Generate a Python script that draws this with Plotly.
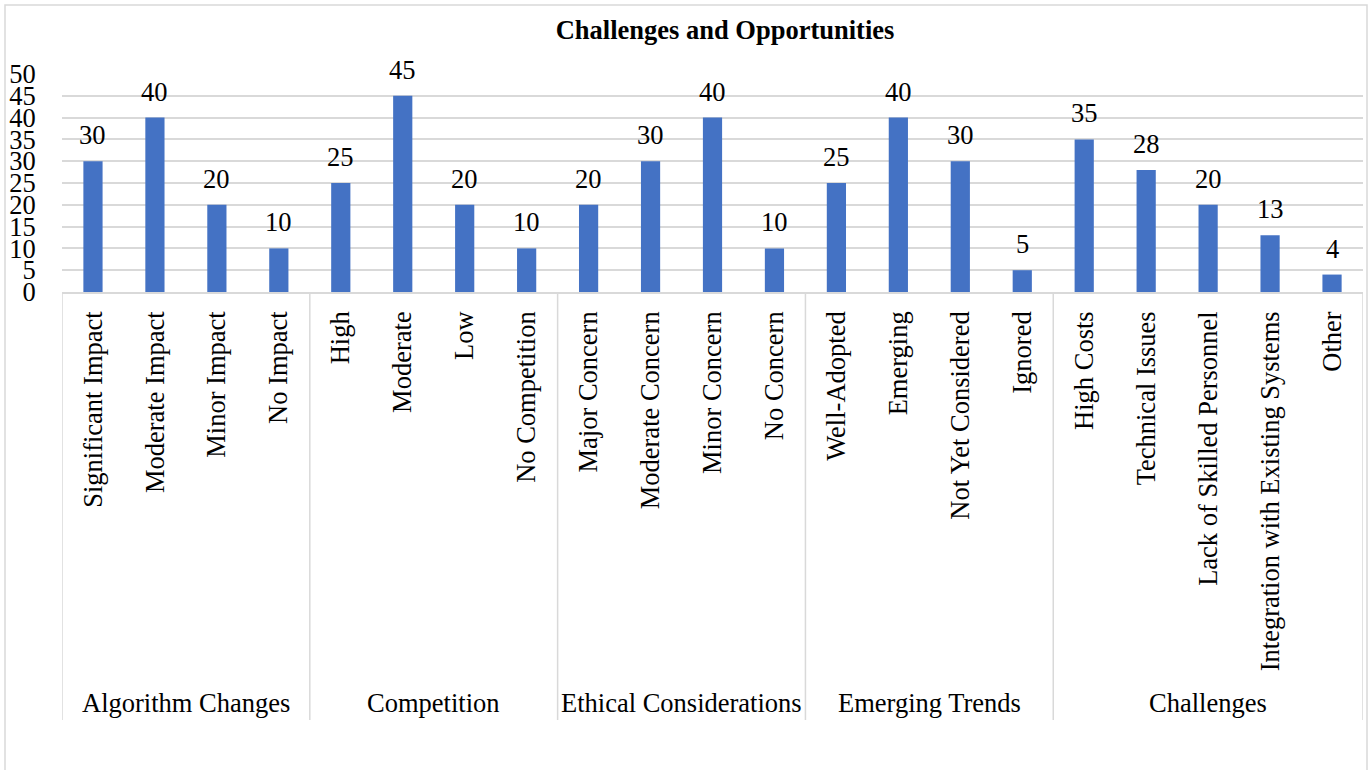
import plotly.graph_objects as go

groups = ["Algorithm Changes", "Competition", "Ethical Considerations", "Emerging Trends", "Challenges"]
categories = [
    ["Significant Impact", "Moderate Impact", "Minor Impact", "No Impact"],
    ["High", "Moderate", "Low", "No Competition"],
    ["Major Concern", "Moderate Concern", "Minor Concern", "No Concern"],
    ["Well-Adopted", "Emerging", "Not Yet Considered", "Ignored"],
    ["High Costs", "Technical Issues", "Lack of Skilled Personnel", "Integration with Existing Systems", "Other"],
]
values = [
    [30, 40, 20, 10],
    [25, 45, 20, 10],
    [20, 30, 40, 10],
    [25, 40, 30, 5],
    [35, 28, 20, 13, 4],
]
title = "Challenges and Opportunities"

W, H = 1371, 770
L, R, T, B = 62, 8, 74, 478
plot_h = H - T - B
FONT = "Liberation Serif, Times New Roman, serif"
FS = 26.5
GRID = "#d9d9d9"

x_labels = [c for grp in categories for c in grp]
y_vals = [v for grp in values for v in grp]

fig = go.Figure()
fig.add_trace(go.Bar(
    x=x_labels, y=y_vals,
    marker=dict(color="#4472C4", line=dict(width=0)),
    width=0.31,
    hoverinfo="x+y",
))

def px_to_paper_y(py):
    return (H - B - py) / plot_h

shapes = []
annotations = []
# data labels
for xl, yv in zip(x_labels, y_vals):
    annotations.append(dict(text=str(yv), xref="x", yref="y", x=xl, y=yv,
                            xanchor="center", yanchor="bottom", yshift=9, showarrow=False,
                            font=dict(family=FONT, size=FS, color="#000000")))
# vertical separators
start = 0
bounds = [start - 0.5]
for grp in categories:
    start += len(grp)
    bounds.append(start - 0.5)
for b in bounds:
    shapes.append(dict(type="line", xref="x", yref="paper", x0=b, x1=b,
                       y0=0, y1=px_to_paper_y(720), line=dict(color=GRID, width=1.5)))
# group labels
start = 0
for g, grp in zip(groups, categories):
    center = start + (len(grp) - 1) / 2
    annotations.append(dict(text=g, xref="x", yref="paper", x=center, y=px_to_paper_y(703),
                            xanchor="center", yanchor="middle", showarrow=False,
                            font=dict(family=FONT, size=FS, color="#000000")))
    start += len(grp)

# outer chart border
shapes.append(dict(type="rect", xref="paper", yref="paper",
                   x0=(5 - L) / (W - L - R), x1=(1367 - L) / (W - L - R),
                   y0=px_to_paper_y(800), y1=px_to_paper_y(5),
                   line=dict(color=GRID, width=1.5), fillcolor="rgba(0,0,0,0)", layer="below"))

fig.update_layout(
    width=W, height=H,
    margin=dict(l=L, r=R, t=T, b=B),
    paper_bgcolor="white", plot_bgcolor="white",
    showlegend=False,
    title=dict(text="<b>" + title + "</b>", x=725 / W, xanchor="center", y=1 - 30 / H, yanchor="middle",
               font=dict(family=FONT, size=FS, color="#000000")),
    font=dict(family=FONT, color="#000000"),
    shapes=shapes,
    annotations=annotations,
)
fig.update_xaxes(
    type="category", range=[-0.5, len(x_labels) - 0.5],
    tickangle=-90, tickfont=dict(family=FONT, size=FS, color="#000000"),
    showgrid=False, showline=True, linecolor=GRID, linewidth=1.5,
    ticks="outside", ticklen=7, tickcolor="rgba(0,0,0,0)",
    zeroline=False,
)
fig.update_yaxes(
    range=[0, 50], dtick=5, tick0=0,
    showgrid=True, gridcolor=GRID, gridwidth=1.5,
    zeroline=False, showline=False,
    ticks="outside", ticklen=20, tickcolor="rgba(0,0,0,0)",
    tickfont=dict(family=FONT, size=FS, color="#000000"),
)

fig.write_html("out.html")
